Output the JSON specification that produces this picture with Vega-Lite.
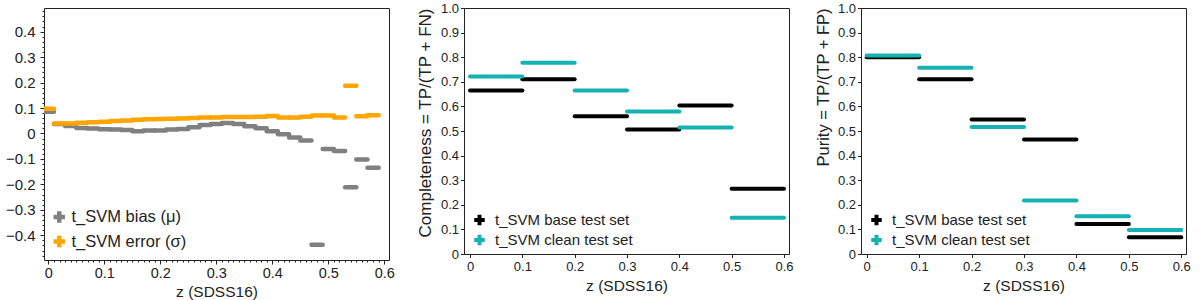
{
  "$schema": "https://vega.github.io/schema/vega-lite/v6.json",
  "padding": {"left": 4, "top": 1, "right": 4, "bottom": 0},
  "config": {
    "font": "Liberation Sans",
    "view": {"stroke": "#222", "strokeWidth": 1},
    "axis": {"grid": false, "domain": false, "tickColor": "#222", "labelColor": "#222", "titleColor": "#222", "titleFontWeight": "normal", "tickSize": 4, "labelPadding": 3, "labelOverlap": false},
    "legend": {"labelColor": "#222", "padding": 0}
  },
  "datasets": {
    "left": [
      {"zlo": -0.01, "zhi": 0.01, "v": 0.085, "s": "t_SVM bias (μ)"},
      {"zlo": 0.01, "zhi": 0.03, "v": 0.037, "s": "t_SVM bias (μ)"},
      {"zlo": 0.03, "zhi": 0.05, "v": 0.029, "s": "t_SVM bias (μ)"},
      {"zlo": 0.05, "zhi": 0.07, "v": 0.022, "s": "t_SVM bias (μ)"},
      {"zlo": 0.07, "zhi": 0.09, "v": 0.020, "s": "t_SVM bias (μ)"},
      {"zlo": 0.09, "zhi": 0.11, "v": 0.017, "s": "t_SVM bias (μ)"},
      {"zlo": 0.11, "zhi": 0.13, "v": 0.016, "s": "t_SVM bias (μ)"},
      {"zlo": 0.13, "zhi": 0.15, "v": 0.014, "s": "t_SVM bias (μ)"},
      {"zlo": 0.15, "zhi": 0.17, "v": 0.009, "s": "t_SVM bias (μ)"},
      {"zlo": 0.17, "zhi": 0.19, "v": 0.012, "s": "t_SVM bias (μ)"},
      {"zlo": 0.19, "zhi": 0.21, "v": 0.012, "s": "t_SVM bias (μ)"},
      {"zlo": 0.21, "zhi": 0.23, "v": 0.016, "s": "t_SVM bias (μ)"},
      {"zlo": 0.23, "zhi": 0.25, "v": 0.018, "s": "t_SVM bias (μ)"},
      {"zlo": 0.25, "zhi": 0.27, "v": 0.025, "s": "t_SVM bias (μ)"},
      {"zlo": 0.27, "zhi": 0.29, "v": 0.033, "s": "t_SVM bias (μ)"},
      {"zlo": 0.29, "zhi": 0.31, "v": 0.037, "s": "t_SVM bias (μ)"},
      {"zlo": 0.31, "zhi": 0.33, "v": 0.041, "s": "t_SVM bias (μ)"},
      {"zlo": 0.33, "zhi": 0.35, "v": 0.037, "s": "t_SVM bias (μ)"},
      {"zlo": 0.35, "zhi": 0.37, "v": 0.028, "s": "t_SVM bias (μ)"},
      {"zlo": 0.37, "zhi": 0.39, "v": 0.021, "s": "t_SVM bias (μ)"},
      {"zlo": 0.39, "zhi": 0.41, "v": 0.009, "s": "t_SVM bias (μ)"},
      {"zlo": 0.41, "zhi": 0.43, "v": -0.003, "s": "t_SVM bias (μ)"},
      {"zlo": 0.43, "zhi": 0.45, "v": -0.016, "s": "t_SVM bias (μ)"},
      {"zlo": 0.45, "zhi": 0.47, "v": -0.028, "s": "t_SVM bias (μ)"},
      {"zlo": 0.47, "zhi": 0.49, "v": -0.437, "s": "t_SVM bias (μ)"},
      {"zlo": 0.49, "zhi": 0.51, "v": -0.061, "s": "t_SVM bias (μ)"},
      {"zlo": 0.51, "zhi": 0.53, "v": -0.069, "s": "t_SVM bias (μ)"},
      {"zlo": 0.53, "zhi": 0.55, "v": -0.211, "s": "t_SVM bias (μ)"},
      {"zlo": 0.55, "zhi": 0.57, "v": -0.102, "s": "t_SVM bias (μ)"},
      {"zlo": 0.57, "zhi": 0.59, "v": -0.135, "s": "t_SVM bias (μ)"},
      {"zlo": -0.01, "zhi": 0.01, "v": 0.097, "s": "t_SVM error (σ)"},
      {"zlo": 0.01, "zhi": 0.03, "v": 0.039, "s": "t_SVM error (σ)"},
      {"zlo": 0.03, "zhi": 0.05, "v": 0.039, "s": "t_SVM error (σ)"},
      {"zlo": 0.05, "zhi": 0.07, "v": 0.042, "s": "t_SVM error (σ)"},
      {"zlo": 0.07, "zhi": 0.09, "v": 0.044, "s": "t_SVM error (σ)"},
      {"zlo": 0.09, "zhi": 0.11, "v": 0.046, "s": "t_SVM error (σ)"},
      {"zlo": 0.11, "zhi": 0.13, "v": 0.049, "s": "t_SVM error (σ)"},
      {"zlo": 0.13, "zhi": 0.15, "v": 0.051, "s": "t_SVM error (σ)"},
      {"zlo": 0.15, "zhi": 0.17, "v": 0.054, "s": "t_SVM error (σ)"},
      {"zlo": 0.17, "zhi": 0.19, "v": 0.056, "s": "t_SVM error (σ)"},
      {"zlo": 0.19, "zhi": 0.21, "v": 0.057, "s": "t_SVM error (σ)"},
      {"zlo": 0.21, "zhi": 0.23, "v": 0.058, "s": "t_SVM error (σ)"},
      {"zlo": 0.23, "zhi": 0.25, "v": 0.059, "s": "t_SVM error (σ)"},
      {"zlo": 0.25, "zhi": 0.27, "v": 0.061, "s": "t_SVM error (σ)"},
      {"zlo": 0.27, "zhi": 0.29, "v": 0.063, "s": "t_SVM error (σ)"},
      {"zlo": 0.29, "zhi": 0.31, "v": 0.063, "s": "t_SVM error (σ)"},
      {"zlo": 0.31, "zhi": 0.33, "v": 0.065, "s": "t_SVM error (σ)"},
      {"zlo": 0.33, "zhi": 0.35, "v": 0.065, "s": "t_SVM error (σ)"},
      {"zlo": 0.35, "zhi": 0.37, "v": 0.065, "s": "t_SVM error (σ)"},
      {"zlo": 0.37, "zhi": 0.39, "v": 0.066, "s": "t_SVM error (σ)"},
      {"zlo": 0.39, "zhi": 0.41, "v": 0.069, "s": "t_SVM error (σ)"},
      {"zlo": 0.41, "zhi": 0.43, "v": 0.063, "s": "t_SVM error (σ)"},
      {"zlo": 0.43, "zhi": 0.45, "v": 0.063, "s": "t_SVM error (σ)"},
      {"zlo": 0.45, "zhi": 0.47, "v": 0.066, "s": "t_SVM error (σ)"},
      {"zlo": 0.47, "zhi": 0.49, "v": 0.071, "s": "t_SVM error (σ)"},
      {"zlo": 0.49, "zhi": 0.51, "v": 0.071, "s": "t_SVM error (σ)"},
      {"zlo": 0.51, "zhi": 0.53, "v": 0.063, "s": "t_SVM error (σ)"},
      {"zlo": 0.53, "zhi": 0.55, "v": 0.188, "s": "t_SVM error (σ)"},
      {"zlo": 0.55, "zhi": 0.57, "v": 0.068, "s": "t_SVM error (σ)"},
      {"zlo": 0.57, "zhi": 0.59, "v": 0.072, "s": "t_SVM error (σ)"}
    ],
    "completeness": [
      {"zlo": 0.0, "zhi": 0.1, "v": 0.665, "s": "t_SVM base test set"},
      {"zlo": 0.1, "zhi": 0.2, "v": 0.71, "s": "t_SVM base test set"},
      {"zlo": 0.2, "zhi": 0.3, "v": 0.56, "s": "t_SVM base test set"},
      {"zlo": 0.3, "zhi": 0.4, "v": 0.506, "s": "t_SVM base test set"},
      {"zlo": 0.4, "zhi": 0.5, "v": 0.604, "s": "t_SVM base test set"},
      {"zlo": 0.5, "zhi": 0.6, "v": 0.265, "s": "t_SVM base test set"},
      {"zlo": 0.0, "zhi": 0.1, "v": 0.722, "s": "t_SVM clean test set"},
      {"zlo": 0.1, "zhi": 0.2, "v": 0.777, "s": "t_SVM clean test set"},
      {"zlo": 0.2, "zhi": 0.3, "v": 0.665, "s": "t_SVM clean test set"},
      {"zlo": 0.3, "zhi": 0.4, "v": 0.579, "s": "t_SVM clean test set"},
      {"zlo": 0.4, "zhi": 0.5, "v": 0.514, "s": "t_SVM clean test set"},
      {"zlo": 0.5, "zhi": 0.6, "v": 0.147, "s": "t_SVM clean test set"}
    ],
    "purity": [
      {"zlo": 0.0, "zhi": 0.1, "v": 0.80, "s": "t_SVM base test set"},
      {"zlo": 0.1, "zhi": 0.2, "v": 0.71, "s": "t_SVM base test set"},
      {"zlo": 0.2, "zhi": 0.3, "v": 0.547, "s": "t_SVM base test set"},
      {"zlo": 0.3, "zhi": 0.4, "v": 0.465, "s": "t_SVM base test set"},
      {"zlo": 0.4, "zhi": 0.5, "v": 0.122, "s": "t_SVM base test set"},
      {"zlo": 0.5, "zhi": 0.6, "v": 0.068, "s": "t_SVM base test set"},
      {"zlo": 0.0, "zhi": 0.1, "v": 0.807, "s": "t_SVM clean test set"},
      {"zlo": 0.1, "zhi": 0.2, "v": 0.757, "s": "t_SVM clean test set"},
      {"zlo": 0.2, "zhi": 0.3, "v": 0.516, "s": "t_SVM clean test set"},
      {"zlo": 0.3, "zhi": 0.4, "v": 0.217, "s": "t_SVM clean test set"},
      {"zlo": 0.4, "zhi": 0.5, "v": 0.153, "s": "t_SVM clean test set"},
      {"zlo": 0.5, "zhi": 0.6, "v": 0.098, "s": "t_SVM clean test set"}
    ]
  },
  "resolve": {"scale": {"color": "independent"}, "legend": {"color": "independent"}},
  "align": "none",
  "spacing": 20,
  "hconcat": [
    {
      "width": 345,
      "height": 252,
      "resolve": {"axis": {"x": "independent", "y": "independent"}},
      "layer": [
        {
          "data": {"name": "left"},
          "mark": {"type": "rule", "strokeWidth": 4.5, "strokeCap": "round", "clip": true},
          "encoding": {
            "x": {"field": "zlo", "type": "quantitative", "scale": {"domain": [-0.0077, 0.6084], "nice": false, "zero": false},
              "axis": {"orient": "bottom", "values": [0, 0.1, 0.2, 0.3, 0.4, 0.5, 0.6], "labelExpr": "datum.value == 0 ? '0' : format(datum.value, '.1f')", "title": "z (SDSS16)", "labelFontSize": 14.5, "titleFontSize": 15.5, "titlePadding": 5, "labelPadding": 2}},
            "x2": {"field": "zhi"},
            "y": {"field": "v", "type": "quantitative", "scale": {"domain": [-0.497, 0.493], "nice": false},
              "axis": {"orient": "left", "values": [-0.4, -0.3, -0.2, -0.1, 0, 0.1, 0.2, 0.3, 0.4], "labelExpr": "datum.value == 0 ? '0' : format(datum.value, '.1f')", "title": null, "labelFontSize": 15, "labelPadding": 5}},
            "color": {"field": "s", "type": "nominal", "sort": ["t_SVM bias (μ)", "t_SVM error (σ)"],
              "scale": {"domain": ["t_SVM bias (μ)", "t_SVM error (σ)"], "range": ["#808080", "#ffa500"]},
              "legend": {"title": null, "orient": "none", "legendX": 7, "legendY": 201, "symbolType": "M-1,0H1M0,-1V1", "symbolSize": 130, "symbolStrokeWidth": 4.5, "labelFontSize": 16.5, "clipHeight": 16, "rowPadding": 7.5, "labelOffset": 4}}
          }
        },
        {
          "data": {"name": "left"},
          "mark": {"type": "point", "opacity": 0},
          "encoding": {
            "x": {"field": "zlo", "type": "quantitative",
              "axis": {"orient": "bottom", "values": [0.01, 0.02, 0.03, 0.04, 0.05, 0.06, 0.07, 0.08, 0.09, 0.11, 0.12, 0.13, 0.14, 0.15, 0.16, 0.17, 0.18, 0.19, 0.21, 0.22, 0.23, 0.24, 0.25, 0.26, 0.27, 0.28, 0.29, 0.31, 0.32, 0.33, 0.34, 0.35, 0.36, 0.37, 0.38, 0.39, 0.41, 0.42, 0.43, 0.44, 0.45, 0.46, 0.47, 0.48, 0.49, 0.51, 0.52, 0.53, 0.54, 0.55, 0.56, 0.57, 0.58, 0.59, 0.6], "labels": false, "title": null, "tickSize": 2}},
            "y": {"field": "v", "type": "quantitative",
              "axis": {"orient": "left", "values": [-0.48, -0.46, -0.44, -0.42, -0.38, -0.36, -0.34, -0.32, -0.28, -0.26, -0.24, -0.22, -0.18, -0.16, -0.14, -0.12, -0.08, -0.06, -0.04, -0.02, 0.02, 0.04, 0.06, 0.08, 0.12, 0.14, 0.16, 0.18, 0.22, 0.24, 0.26, 0.28, 0.32, 0.34, 0.36, 0.38, 0.42, 0.44, 0.46, 0.48], "labels": false, "title": null, "tickSize": 2}}
          }
        },
        {
          "mark": {"type": "rule", "color": "#f07a7a", "strokeWidth": 1},
          "encoding": {"y": {"datum": 0, "type": "quantitative", "axis": null}}
        }
      ]
    },
    {
      "width": 325,
      "height": 246,
      "data": {"name": "completeness"},
      "mark": {"type": "rule", "strokeWidth": 4, "strokeCap": "round", "clip": true},
      "encoding": {
        "x": {"field": "zlo", "type": "quantitative", "scale": {"domain": [-0.0115, 0.6096], "nice": false, "zero": false},
          "axis": {"values": [0, 0.1, 0.2, 0.3, 0.4, 0.5, 0.6], "labelExpr": "datum.value == 0 ? '0' : format(datum.value, '.1f')", "title": "z (SDSS16)", "labelFontSize": 13, "titleFontSize": 15.5, "titlePadding": 5, "tickSize": 3.5, "labelPadding": 2.5}},
        "x2": {"field": "zhi"},
        "y": {"field": "v", "type": "quantitative", "scale": {"domain": [0, 1], "nice": false},
          "axis": {"values": [0, 0.1, 0.2, 0.3, 0.4, 0.5, 0.6, 0.7, 0.8, 0.9, 1.0], "labelExpr": "datum.value == 0 ? '0' : format(datum.value, '.1f')", "title": "Completeness = TP/(TP + FN)", "titleAnchor": "end", "labelFontSize": 13, "titleFontSize": 17, "titlePadding": 6, "tickSize": 3.5, "labelPadding": 2}},
        "color": {"field": "s", "type": "nominal",
          "scale": {"domain": ["t_SVM base test set", "t_SVM clean test set"], "range": ["#000000", "#14b2b2"]},
          "legend": {"title": null, "orient": "none", "legendX": 8, "legendY": 205, "symbolType": "M-1,0H1M0,-1V1", "symbolSize": 110, "symbolStrokeWidth": 4, "labelFontSize": 15, "clipHeight": 14, "rowPadding": 5, "labelOffset": 8}}
      }
    },
    {
      "width": 325,
      "height": 246,
      "data": {"name": "purity"},
      "mark": {"type": "rule", "strokeWidth": 4, "strokeCap": "round", "clip": true},
      "encoding": {
        "x": {"field": "zlo", "type": "quantitative", "scale": {"domain": [-0.0109, 0.609], "nice": false, "zero": false},
          "axis": {"values": [0, 0.1, 0.2, 0.3, 0.4, 0.5, 0.6], "labelExpr": "datum.value == 0 ? '0' : format(datum.value, '.1f')", "title": "z (SDSS16)", "labelFontSize": 13, "titleFontSize": 15.5, "titlePadding": 5, "tickSize": 3.5, "labelPadding": 2.5}},
        "x2": {"field": "zhi"},
        "y": {"field": "v", "type": "quantitative", "scale": {"domain": [0, 1], "nice": false},
          "axis": {"values": [0, 0.1, 0.2, 0.3, 0.4, 0.5, 0.6, 0.7, 0.8, 0.9, 1.0], "labelExpr": "datum.value == 0 ? '0' : format(datum.value, '.1f')", "title": "Purity = TP/(TP + FP)", "titleAnchor": "end", "labelFontSize": 13, "titleFontSize": 16.5, "titlePadding": 6, "tickSize": 3.5, "labelPadding": 2}},
        "color": {"field": "s", "type": "nominal",
          "scale": {"domain": ["t_SVM base test set", "t_SVM clean test set"], "range": ["#000000", "#14b2b2"]},
          "legend": {"title": null, "orient": "none", "legendX": 8, "legendY": 205, "symbolType": "M-1,0H1M0,-1V1", "symbolSize": 110, "symbolStrokeWidth": 4, "labelFontSize": 15, "clipHeight": 14, "rowPadding": 5, "labelOffset": 8}}
      }
    }
  ]
}
